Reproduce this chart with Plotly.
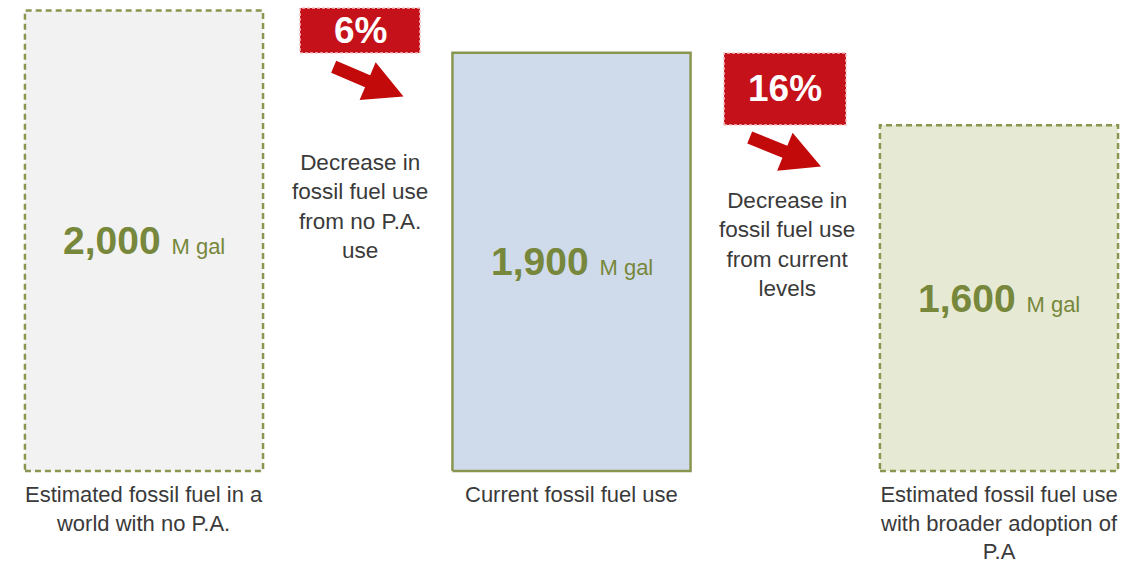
import plotly.graph_objects as go

# ---- data ----
categories = [
    "Estimated fossil fuel in a<br>world with no P.A.",
    "Current fossil fuel use",
    "Estimated fossil fuel use<br>with broader adoption of<br>P.A",
]
values = [2000, 1900, 1600]
value_unit = "M gal"
# relative bar heights as drawn in the reference graphic (index: tallest = 100)
drawn_heights = [100, 90.8, 75.1]
pct_changes = [6, 16]
change_notes = [
    "Decrease in<br>fossil fuel use<br>from no P.A.<br>use",
    "Decrease in<br>fossil fuel use<br>from current<br>levels",
]

# ---- style ----
W, H = 1139, 564
FONT = "Liberation Sans, Arial, sans-serif"
OLIVE_TXT = "#77873b"
OLIVE_LINE = "#8a9650"
fills = ["#f2f2f2", "#cfdbea", "#e6ead4"]
dashes = ["dash", "solid", "dash"]
RED = "#c4111a"
ARROW_RED = "#c30a0a"
TXT = "#3a3a3a"
BAR_W = 0.557
xs = list(range(len(values)))


def px(x, y):
    return x / W, 1 - y / H


fig = go.Figure()
fig.add_trace(go.Bar(
    x=xs, y=drawn_heights, width=BAR_W,
    marker=dict(color=fills, line=dict(width=0)),
    hoverinfo="skip", showlegend=False,
))
for i, h in enumerate(drawn_heights):
    x0, x1 = i - BAR_W / 2, i + BAR_W / 2
    fig.add_trace(go.Scatter(
        x=[x0, x1, x1, x0, x0], y=[0, 0, h, h, 0], mode="lines",
        line=dict(color=OLIVE_LINE, width=2.5,
                  dash="6px,4px" if dashes[i] == "dash" else "solid"),
        hoverinfo="skip", showlegend=False,
    ))

annotations = []
for i, (v, h) in enumerate(zip(values, drawn_heights)):
    annotations.append(dict(
        x=i, y=h / 2, xref="x", yref="y", showarrow=False,
        text=f"<b>{v:,}</b> <span style='font-size:22px'>{value_unit}</span>",
        font=dict(family=FONT, size=39, color=OLIVE_TXT),
        xanchor="center", yanchor="middle",
    ))
    annotations.append(dict(
        x=i, y=0, xref="x", yref="y", showarrow=False, yshift=-9,
        text=categories[i], align="center",
        font=dict(family=FONT, size=22, color=TXT),
        xanchor="center", yanchor="top",
    ))

# percentage boxes, arrows and notes (pixel geometry of the reference layout)
boxes = [(300, 8, 420, 53), (724, 53, 846, 125)]
arrows = [((333.7, 66.8), (403.5, 96.5)), ((749.7, 137.5), (821.0, 166.5))]
notes_pos = [(360, 206.5), (787, 244.5)]
shapes = []
for k, pct in enumerate(pct_changes):
    bx0, by0, bx1, by1 = boxes[k]
    a0 = px(bx0, by1)
    a1 = px(bx1, by0)
    shapes.append(dict(type="rect", xref="paper", yref="paper",
                       x0=a0[0], y0=a0[1], x1=a1[0], y1=a1[1],
                       fillcolor=RED, line=dict(color="#f3c4c4", width=1.5, dash="3px,2px"),
                       layer="above"))
    cx, cy = px((bx0 + bx1) / 2, (by0 + by1) / 2)
    annotations.append(dict(
        x=cx, y=cy, xref="paper", yref="paper", showarrow=False,
        text=f"<b>{pct}%</b>", font=dict(family=FONT, size=37, color="white"),
        xanchor="center", yanchor="middle",
    ))
    # block arrow polygon
    (tx, ty), (hx, hy) = arrows[k]
    L = ((hx - tx) ** 2 + (hy - ty) ** 2) ** 0.5
    ux, uy = (hx - tx) / L, (hy - ty) / L
    nx, ny = -uy, ux
    sw, hw, hl = 6.5, 20.5, 39
    bx, by = hx - ux * hl, hy - uy * hl
    pts = [
        (tx + nx * sw, ty + ny * sw),
        (bx + nx * sw, by + ny * sw),
        (bx + nx * hw, by + ny * hw),
        (hx, hy),
        (bx - nx * hw, by - ny * hw),
        (bx - nx * sw, by - ny * sw),
        (tx - nx * sw, ty - ny * sw),
    ]
    path = "M " + " L ".join(f"{px(x, y)[0]:.5f},{px(x, y)[1]:.5f}" for x, y in pts) + " Z"
    shapes.append(dict(type="path", xref="paper", yref="paper", path=path,
                       fillcolor=ARROW_RED, line=dict(width=0), layer="above"))
    nx_, ny_ = px(*notes_pos[k])
    annotations.append(dict(
        x=nx_, y=ny_, xref="paper", yref="paper", showarrow=False,
        text=change_notes[k], align="center",
        font=dict(family=FONT, size=22.5, color=TXT),
        xanchor="center", yanchor="middle",
    ))

k_px = (471 - 10.5) / 100.0
fig.update_layout(
    width=W, height=H, margin=dict(l=0, r=0, t=0, b=0),
    paper_bgcolor="white", plot_bgcolor="white",
    xaxis=dict(range=[-144 / 427.5, (W - 144) / 427.5], visible=False, fixedrange=True),
    yaxis=dict(range=[-(H - 471) / k_px, 100 + 10.5 / k_px], visible=False, fixedrange=True),
    annotations=annotations, shapes=shapes, bargap=0,
)
fig.write_html(
    "out.html",
    config={"displayModeBar": False},
    post_script="document.body.style.margin='0px';document.body.style.overflow='hidden';",
)
